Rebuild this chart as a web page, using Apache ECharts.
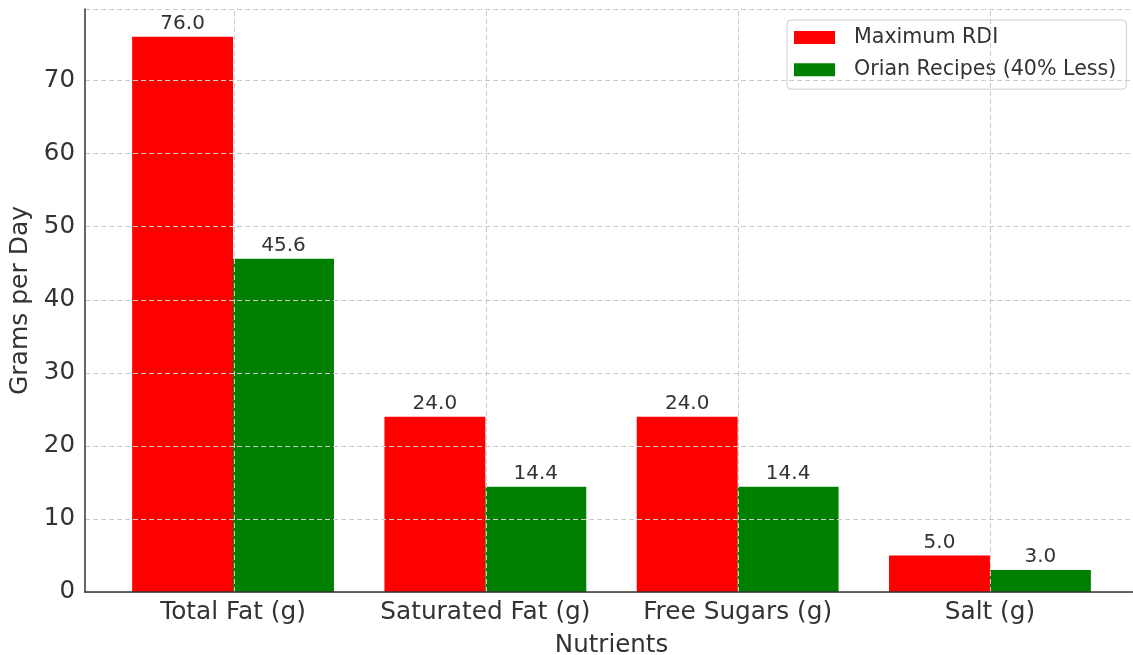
<!DOCTYPE html>
<html>
<head>
<meta charset="utf-8">
<script src="https://cdn.jsdelivr.net/npm/echarts@6/dist/echarts.min.js"></script>
<style>
  html, body { margin: 0; padding: 0; background: #fff; }
  #chart { width: 1133px; height: 655px; }
</style>
</head>
<body>
<div id="chart"></div>
<script>
  // nutrients on the x axis
  var categories = ['Total Fat (g)', 'Saturated Fat (g)', 'Free Sugars (g)', 'Salt (g)']
  var maxRdi = [76.0, 24.0, 24.0, 5.0]
  var orianRecipes = [45.6, 14.4, 14.4, 3.0]
  var seriesNames = ['Maximum RDI', 'Orian Recipes (40% Less)']

  var font = 'DejaVu Sans'
  var textColor = '#333'
  var gridColor = '#cccccc'

  var chart = echarts.init(document.getElementById('chart'))
  chart.setOption({
    animation: false,
    textStyle: { fontFamily: font },
    grid: [
      // grid 0: the frame, y axis and grid lines
      { left: 85, top: 9, width: 1054, bottom: 63, outerBoundsMode: 'none', containLabel: false },
      // grid 1: the bars, one band per nutrient
      { left: 106.9, top: 9, width: 1009.2, bottom: 63, outerBoundsMode: 'none', containLabel: false }
    ],
    legend: {
      orient: 'vertical',
      left: 787,
      top: 20,
      data: seriesNames,
      itemWidth: 41,
      itemHeight: 13,
      itemGap: 11.2,
      padding: [7, 10, 9, 7],
      backgroundColor: '#fff',
      borderColor: '#cccccc',
      borderWidth: 1,
      borderRadius: 4,
      icon: 'rect',
      textStyle: { fontFamily: font, fontSize: 20.6, color: textColor, padding: [0, 0, 0, 14] }
    },
    xAxis: [
      {
        type: 'value', gridIndex: 0, min: -0.59, max: 3.59, z: 10,
        axisLine: { show: true, onZero: false, lineStyle: { color: '#333', width: 1.5 } },
        axisTick: { show: false },
        axisLabel: { show: false },
        splitLine: { show: false }
      },
      {
        type: 'category', gridIndex: 1, data: categories,
        axisLine: { show: false },
        axisTick: { show: false },
        axisLabel: { fontFamily: font, fontSize: 24.8, color: textColor, margin: 8, interval: 0 },
        splitLine: { show: false },
        name: 'Nutrients',
        nameLocation: 'middle',
        nameGap: 41,
        nameTextStyle: { fontFamily: font, fontSize: 24.5, color: textColor }
      }
    ],
    yAxis: [
      {
        type: 'value', gridIndex: 0, min: 0, max: 79.8, interval: 10, z: 10,
        axisLine: { show: true, onZero: false, lineStyle: { color: '#333', width: 1.5 } },
        axisTick: { show: false },
        axisLabel: {
          fontFamily: font, fontSize: 24.5, color: textColor, margin: 10,
          showMaxLabel: false
        },
        splitLine: { show: true, lineStyle: { color: gridColor, type: [5, 3], width: 1 } },
        name: 'Grams per Day',
        nameLocation: 'middle',
        nameGap: 50,
        nameTextStyle: { fontFamily: font, fontSize: 25, color: textColor }
      },
      {
        type: 'value', gridIndex: 1, min: 0, max: 79.8, show: false,
        splitLine: { show: false }
      }
    ],
    series: [
      {
        name: seriesNames[0],
        type: 'bar',
        xAxisIndex: 1,
        yAxisIndex: 1,
        data: maxRdi,
        barGap: '0%',
        barCategoryGap: '20%',
        itemStyle: { color: '#ff0000' },
        label: {
          show: true, position: 'top', distance: 3,
          fontFamily: font, fontSize: 20, color: textColor,
          formatter: function (p) { return p.value.toFixed(1) }
        }
      },
      {
        name: seriesNames[1],
        type: 'bar',
        xAxisIndex: 1,
        yAxisIndex: 1,
        data: orianRecipes,
        barGap: '0%',
        barCategoryGap: '20%',
        itemStyle: { color: '#008000' },
        label: {
          show: true, position: 'top', distance: 3,
          fontFamily: font, fontSize: 20, color: textColor,
          formatter: function (p) { return p.value.toFixed(1) }
        }
      },
      {
        // vertical grid lines at each nutrient, on the frame grid
        name: 'xgrid',
        type: 'scatter',
        xAxisIndex: 0,
        yAxisIndex: 0,
        data: [],
        silent: true,
        markLine: {
          silent: true,
          symbol: 'none',
          z: 5,
          animation: false,
          label: { show: false },
          lineStyle: { color: gridColor, type: [5, 3], width: 1 },
          data: categories.map(function (c, i) { return { xAxis: i } })
        }
      }
    ]
  })
</script>
</body>
</html>
